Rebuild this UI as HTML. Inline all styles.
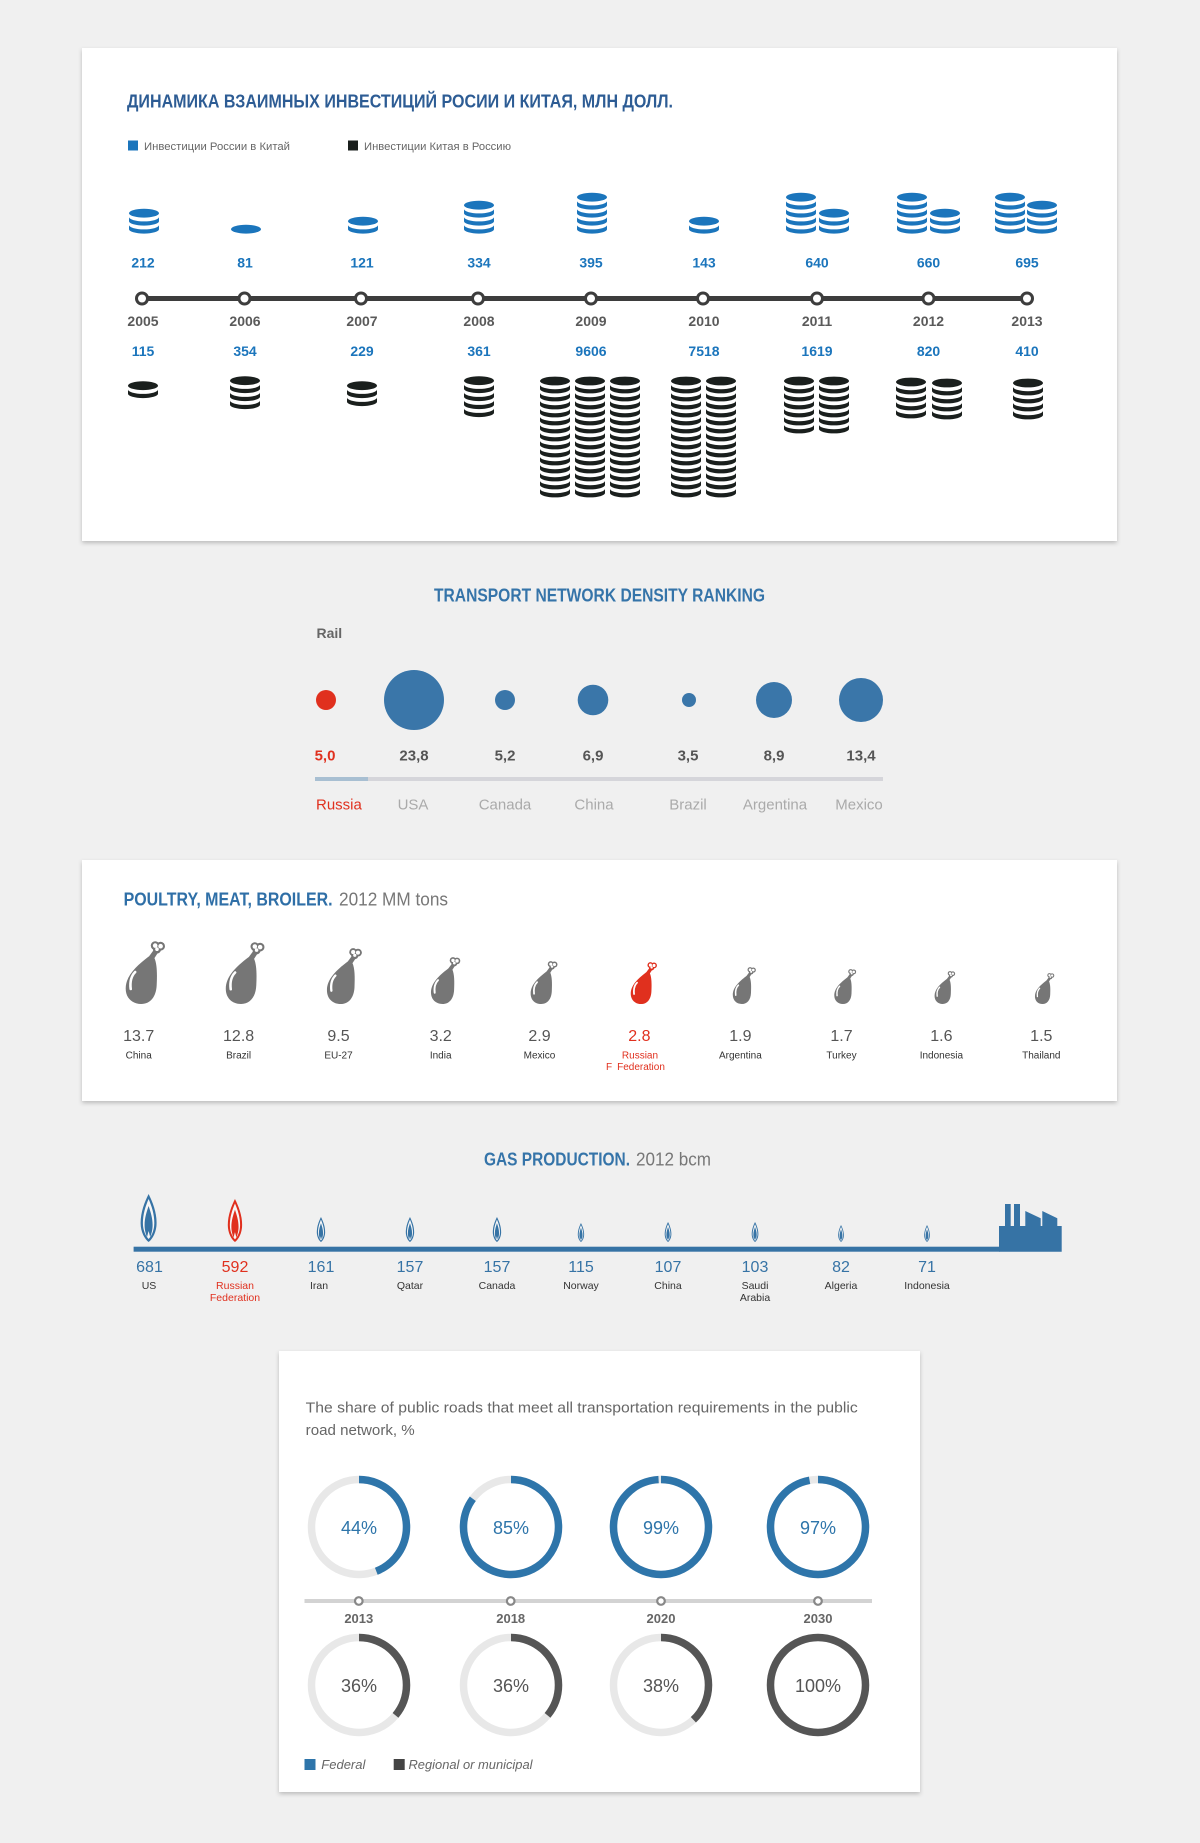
<!DOCTYPE html>
<html><head><meta charset="utf-8"><style>html,body{margin:0;padding:0;background:#f0f0f0}svg{display:block}text{font-family:"Liberation Sans","DejaVu Sans",sans-serif}</style></head>
<body>
<svg width="1200" height="1843" viewBox="0 0 1200 1843" xmlns="http://www.w3.org/2000/svg">
<defs>
<filter id="sh" x="-5%" y="-5%" width="110%" height="115%"><feDropShadow dx="0" dy="2" stdDeviation="2" flood-color="#000" flood-opacity="0.22"/></filter>
<path id="bd" d="M-15,0 A15,4.4 0 0 0 15,0 L15,4.2 A15,4.4 0 0 1 -15,4.2 Z"/>
<g id="k1"><ellipse cx="0" cy="0" rx="15" ry="4.4"/></g>
<g id="k2"><use href="#k1"/><use href="#bd" y="3.8"/></g>
<g id="k3"><use href="#k2"/><use href="#bd" y="11.8"/></g>
<g id="k4"><use href="#k3"/><use href="#bd" y="19.8"/></g>
<g id="k5"><use href="#k4"/><use href="#bd" y="27.8"/></g>
<g id="k6"><use href="#k5"/><use href="#bd" y="35.8"/></g>
<g id="k7"><use href="#k6"/><use href="#bd" y="43.8"/></g>
<g id="k8"><use href="#k7"/><use href="#bd" y="51.8"/></g>
<g id="k9"><use href="#k8"/><use href="#bd" y="59.8"/></g>
<g id="k10"><use href="#k9"/><use href="#bd" y="67.8"/></g>
<g id="k11"><use href="#k10"/><use href="#bd" y="75.8"/></g>
<g id="k12"><use href="#k11"/><use href="#bd" y="83.8"/></g>
<g id="k13"><use href="#k12"/><use href="#bd" y="91.8"/></g>
<g id="k14"><use href="#k13"/><use href="#bd" y="99.8"/></g>
<g id="k15"><use href="#k14"/><use href="#bd" y="107.8"/></g>
<g id="dm">
<path d="M28.5,9 L33.5,10.5 L29,17.5 L23,16.5 Z"/>
<path d="M23.5,15.5 L29,16.5 C32,23 32,33 31.5,44 C31,56 25,63 16,63 C7,63 0.5,57 0.5,47.5 C0.5,35 11,25 23.5,15.5 Z"/>
<circle cx="30" cy="4.6" r="4.4"/><circle cx="35.4" cy="5.2" r="4.4"/><circle cx="31.8" cy="8.6" r="4"/>
<circle cx="30" cy="4.6" r="2.3" fill="#fff"/><circle cx="35.4" cy="5.2" r="2.3" fill="#fff"/><circle cx="31.8" cy="8.2" r="1.8" fill="#fff"/>
<path d="M5.5,48 C4.6,41 6,35 10,31" fill="none" stroke="#fff" stroke-width="2.6" stroke-linecap="round"/>
</g>
<g id="fl">
<path d="M8,0 C12,8 16,18 16,29 C16,38 12,45 8,48 C4,45 0,38 0,29 C0,18 4,8 8,0 Z"/>
<path fill="#f6f6f6" d="M8,5 C11,12 13.7,20 13.7,29 C13.7,37 10.5,42.5 8,45 C5.5,42.5 2.3,37 2.3,29 C2.3,20 5,12 8,5 Z"/>
<path d="M8,12 C10,18 12,24 12,31 C12,36 10.8,40 9.6,43 L8,37 L6.4,43 C5.2,40 4,36 4,31 C4,24 6,18 8,12 Z"/>
</g>
</defs>

<rect x="0" y="0" width="1200" height="1843" fill="#f0f0f0"/>

<!-- Card 1 -->
<rect x="82" y="48" width="1035" height="493" fill="#fff" filter="url(#sh)"/>
<text x="127" y="107.5" font-size="18" font-weight="bold" fill="#2d5c94" textLength="546" lengthAdjust="spacingAndGlyphs">ДИНАМИКА ВЗАИМНЫХ ИНВЕСТИЦИЙ РОСИИ И КИТАЯ, МЛН ДОЛЛ.</text>
<rect x="128" y="140.5" width="10" height="10" fill="#1b75bc"/>
<text x="144" y="150" font-size="11" fill="#666" textLength="146" lengthAdjust="spacingAndGlyphs">Инвестиции России в Китай</text>
<rect x="348" y="140.5" width="10" height="10" fill="#1a1f1d"/>
<text x="364" y="150" font-size="11" fill="#666" textLength="147" lengthAdjust="spacingAndGlyphs">Инвестиции Китая в Россию</text>

<g fill="#1b75bc">
<use href="#k3" x="144" y="213.2"/>
<use href="#k1" x="246" y="229.2"/>
<use href="#k2" x="363" y="221.2"/>
<use href="#k4" x="479" y="205.2"/>
<use href="#k5" x="592" y="197.2"/>
<use href="#k2" x="704" y="221.2"/>
<use href="#k5" x="801" y="197.2"/>
<use href="#k3" x="834" y="213.2"/>
<use href="#k5" x="912" y="197.2"/>
<use href="#k3" x="945" y="213.2"/>
<use href="#k5" x="1010" y="197.2"/>
<use href="#k4" x="1042" y="205.2"/>
</g>

<g font-size="14" font-weight="bold" fill="#1b75bc" text-anchor="middle">
<text x="143" y="267.3">212</text><text x="245" y="267.3">81</text><text x="362" y="267.3">121</text><text x="479" y="267.3">334</text><text x="591" y="267.3">395</text><text x="704" y="267.3">143</text><text x="817" y="267.3">640</text><text x="928.5" y="267.3">660</text><text x="1027" y="267.3">695</text>
</g>

<line x1="142" y1="298.5" x2="1027" y2="298.5" stroke="#3d3d3d" stroke-width="5"/>
<g fill="#fff" stroke="#3d3d3d" stroke-width="3">
<circle cx="142" cy="298.5" r="5.5"/><circle cx="244.5" cy="298.5" r="5.5"/><circle cx="361" cy="298.5" r="5.5"/><circle cx="478" cy="298.5" r="5.5"/><circle cx="591" cy="298.5" r="5.5"/><circle cx="703" cy="298.5" r="5.5"/><circle cx="817" cy="298.5" r="5.5"/><circle cx="928.5" cy="298.5" r="5.5"/><circle cx="1027" cy="298.5" r="5.5"/>
</g>
<g font-size="14" font-weight="bold" fill="#5a5a5a" text-anchor="middle">
<text x="143" y="326">2005</text><text x="245" y="326">2006</text><text x="362" y="326">2007</text><text x="479" y="326">2008</text><text x="591" y="326">2009</text><text x="704" y="326">2010</text><text x="817" y="326">2011</text><text x="928.5" y="326">2012</text><text x="1027" y="326">2013</text>
</g>
<g font-size="14" font-weight="bold" fill="#1b75bc" text-anchor="middle">
<text x="143" y="356">115</text><text x="245" y="356">354</text><text x="362" y="356">229</text><text x="479" y="356">361</text><text x="591" y="356">9606</text><text x="704" y="356">7518</text><text x="817" y="356">1619</text><text x="928.5" y="356">820</text><text x="1027" y="356">410</text>
</g>

<g fill="#1a1f1d">
<use href="#k2" x="143" y="385.7"/>
<use href="#k4" x="245" y="380.7"/>
<use href="#k3" x="362" y="385.7"/>
<use href="#k5" x="479" y="380.7"/>
<use href="#k15" x="555" y="381"/>
<use href="#k15" x="590" y="381"/>
<use href="#k15" x="625" y="381"/>
<use href="#k15" x="686" y="381"/>
<use href="#k15" x="721" y="381"/>
<use href="#k7" x="799" y="381"/>
<use href="#k7" x="834" y="381"/>
<use href="#k5" x="911" y="382"/>
<use href="#k5" x="947" y="383"/>
<use href="#k5" x="1028" y="383"/>
</g>

<!-- Transport -->
<text x="434" y="601.5" font-size="18" font-weight="bold" fill="#3574a9" textLength="331" lengthAdjust="spacingAndGlyphs">TRANSPORT NETWORK DENSITY RANKING</text>
<text x="316.5" y="638" font-size="14" font-weight="bold" fill="#666">Rail</text>
<circle cx="326" cy="700" r="10" fill="#e0301e"/>
<g fill="#3a76a9">
<circle cx="414" cy="700" r="30"/><circle cx="505" cy="700" r="10"/><circle cx="593" cy="700" r="15.3"/><circle cx="689" cy="700" r="7"/><circle cx="774" cy="700" r="18"/><circle cx="861" cy="700" r="22"/>
</g>
<g font-size="15" font-weight="bold" fill="#555" text-anchor="middle">
<text x="325" y="760.5" fill="#e0301e">5,0</text><text x="414" y="760.5">23,8</text><text x="505" y="760.5">5,2</text><text x="593" y="760.5">6,9</text><text x="688" y="760.5">3,5</text><text x="774" y="760.5">8,9</text><text x="861" y="760.5">13,4</text>
</g>
<rect x="315" y="777" width="568" height="4" fill="#d5d5da"/>
<rect x="315" y="777" width="53" height="4" fill="#a8bfd2"/>
<g font-size="15" fill="#aaa" text-anchor="middle">
<text x="316" y="809.5" fill="#e0301e" text-anchor="start">Russia</text><text x="413" y="809.5">USA</text><text x="505" y="809.5">Canada</text><text x="594" y="809.5">China</text><text x="688" y="809.5">Brazil</text><text x="775" y="809.5">Argentina</text><text x="859" y="809.5">Mexico</text>
</g>

<!-- Card 2 Poultry -->
<rect x="82" y="860" width="1035" height="241" fill="#fff" filter="url(#sh)"/>
<text x="123.6" y="905.5" font-size="18" font-weight="bold" fill="#2f6fa7" textLength="209" lengthAdjust="spacingAndGlyphs">POULTRY, MEAT, BROILER.</text>
<text x="339" y="905.5" font-size="18" fill="#777" textLength="109" lengthAdjust="spacingAndGlyphs">2012 MM tons</text>
<g fill="#767676">
<use href="#dm" transform="translate(125.2,941) scale(1)"/>
<use href="#dm" transform="translate(225.3,942) scale(0.984)"/>
<use href="#dm" transform="translate(326.5,948) scale(0.889)"/>
<use href="#dm" transform="translate(430.6,957) scale(0.746)"/>
<use href="#dm" transform="translate(530.3,961) scale(0.683)"/>
<use href="#dm" transform="translate(630.4,962) scale(0.667)" fill="#e0301e"/>
<use href="#dm" transform="translate(732.5,967) scale(0.587)"/>
<use href="#dm" transform="translate(834,969) scale(0.556)"/>
<use href="#dm" transform="translate(934.3,971) scale(0.524)"/>
<use href="#dm" transform="translate(1034.7,973) scale(0.492)"/>
</g>
<g font-size="16" fill="#555" text-anchor="middle">
<text x="138.7" y="1041">13.7</text><text x="238.6" y="1041">12.8</text><text x="338.5" y="1041">9.5</text><text x="440.7" y="1041">3.2</text><text x="539.5" y="1041">2.9</text><text x="639.4" y="1041" fill="#e0301e">2.8</text><text x="740.4" y="1041">1.9</text><text x="841.5" y="1041">1.7</text><text x="941.4" y="1041">1.6</text><text x="1041.3" y="1041">1.5</text>
</g>
<g font-size="10" fill="#333" text-anchor="middle">
<text x="138.7" y="1058.5">China</text><text x="238.6" y="1058.5">Brazil</text><text x="338.5" y="1058.5">EU-27</text><text x="440.7" y="1058.5">India</text><text x="539.5" y="1058.5">Mexico</text><text x="640" y="1058.5" fill="#e0301e">Russian</text><text x="740.4" y="1058.5">Argentina</text><text x="841.5" y="1058.5">Turkey</text><text x="941.4" y="1058.5">Indonesia</text><text x="1041.3" y="1058.5">Thailand</text>
<text x="606" y="1070" fill="#e0301e" text-anchor="start">F</text><text x="641" y="1070" fill="#e0301e">Federation</text>
</g>

<!-- Gas -->
<text x="484" y="1165.5" font-size="18" font-weight="bold" fill="#3574a9" textLength="146" lengthAdjust="spacingAndGlyphs">GAS PRODUCTION.</text>
<text x="636" y="1165.5" font-size="18" fill="#777" textLength="75" lengthAdjust="spacingAndGlyphs">2012 bcm</text>
<g fill="#3673a5">
<use href="#fl" transform="translate(140.6,1194) scale(1)"/>
<use href="#fl" transform="translate(227.8,1199) scale(0.896)" fill="#e0301e"/>
<use href="#fl" transform="translate(316.8,1217) scale(0.521)"/>
<use href="#fl" transform="translate(405.8,1217) scale(0.521)"/>
<use href="#fl" transform="translate(492.8,1217) scale(0.521)"/>
<use href="#fl" transform="translate(577.8,1223) scale(0.396)"/>
<use href="#fl" transform="translate(664.7,1222) scale(0.417)"/>
<use href="#fl" transform="translate(751.7,1222) scale(0.417)"/>
<use href="#fl" transform="translate(838.2,1225) scale(0.354)"/>
<use href="#fl" transform="translate(924.2,1225) scale(0.354)"/>
<rect x="133.6" y="1246.7" width="866" height="5" fill="#3673a5"/>
<path d="M999,1251.7 L999,1226 L1005,1226 L1005,1204 L1010.7,1204 L1010.7,1226 L1014,1226 L1014,1204 L1020,1204 L1020,1226 L1025.3,1226 L1025.3,1211 L1040.7,1218.3 L1040.7,1226 L1042.3,1226 L1042.3,1211 L1057.3,1218.3 L1057.3,1226 L1061.7,1226 L1061.7,1251.7 Z"/>
</g>
<g font-size="16" fill="#3673a5" text-anchor="middle">
<text x="149.5" y="1272">681</text><text x="235" y="1272" fill="#e0301e">592</text><text x="321" y="1272">161</text><text x="410" y="1272">157</text><text x="497" y="1272">157</text><text x="581" y="1272">115</text><text x="668" y="1272">107</text><text x="755" y="1272">103</text><text x="841" y="1272">82</text><text x="927" y="1272">71</text>
</g>
<g font-size="10.5" fill="#333" text-anchor="middle">
<text x="149" y="1289.2">US</text><text x="235" y="1289.2" fill="#e0301e">Russian</text><text x="235" y="1300.8" fill="#e0301e">Federation</text><text x="319" y="1289.2">Iran</text><text x="410" y="1289.2">Qatar</text><text x="497" y="1289.2">Canada</text><text x="581" y="1289.2">Norway</text><text x="668" y="1289.2">China</text><text x="755" y="1289.2">Saudi</text><text x="755" y="1300.8">Arabia</text><text x="841" y="1289.2">Algeria</text><text x="927" y="1289.2">Indonesia</text>
</g>

<!-- Card 3 Roads -->
<rect x="279" y="1351" width="641" height="441" fill="#fff" filter="url(#sh)"/>
<text x="305.7" y="1412.7" font-size="15" fill="#666" textLength="552" lengthAdjust="spacingAndGlyphs">The share of public roads that meet all transportation requirements in the public</text>
<text x="305.7" y="1435" font-size="15" fill="#666" textLength="109" lengthAdjust="spacingAndGlyphs">road network, %</text>

<g fill="none" stroke-width="7.5">
<circle cx="359" cy="1527" r="47.5" stroke="#e8e8e8"/>
<circle cx="511" cy="1527" r="47.5" stroke="#e8e8e8"/>
<circle cx="661" cy="1527" r="47.5" stroke="#e8e8e8"/>
<circle cx="818" cy="1527" r="47.5" stroke="#e8e8e8"/>
<circle cx="359" cy="1527" r="47.5" stroke="#2e75aa" stroke-dasharray="131.3 400" transform="rotate(-90 359 1527)"/>
<circle cx="511" cy="1527" r="47.5" stroke="#2e75aa" stroke-dasharray="253.7 400" transform="rotate(-90 511 1527)"/>
<circle cx="661" cy="1527" r="47.5" stroke="#2e75aa" stroke-dasharray="295.5 400" transform="rotate(-90 661 1527)"/>
<circle cx="818" cy="1527" r="47.5" stroke="#2e75aa" stroke-dasharray="289.5 400" transform="rotate(-90 818 1527)"/>
<circle cx="359" cy="1685" r="47.5" stroke="#e8e8e8"/>
<circle cx="511" cy="1685" r="47.5" stroke="#e8e8e8"/>
<circle cx="661" cy="1685" r="47.5" stroke="#e8e8e8"/>
<circle cx="359" cy="1685" r="47.5" stroke="#555" stroke-dasharray="107.4 400" transform="rotate(-90 359 1685)"/>
<circle cx="511" cy="1685" r="47.5" stroke="#555" stroke-dasharray="107.4 400" transform="rotate(-90 511 1685)"/>
<circle cx="661" cy="1685" r="47.5" stroke="#555" stroke-dasharray="113.4 400" transform="rotate(-90 661 1685)"/>
<circle cx="818" cy="1685" r="47.5" stroke="#555"/>
</g>
<g font-size="18" fill="#2e75aa" text-anchor="middle">
<text x="359" y="1534">44%</text><text x="511" y="1534">85%</text><text x="661" y="1534">99%</text><text x="818" y="1534">97%</text>
</g>
<g font-size="18" fill="#555" text-anchor="middle">
<text x="359" y="1692">36%</text><text x="511" y="1692">36%</text><text x="661" y="1692">38%</text><text x="818" y="1692">100%</text>
</g>
<rect x="304.5" y="1599" width="567.5" height="4" fill="#d3d3d3"/>
<g fill="#fff" stroke="#888" stroke-width="2.2">
<circle cx="358.8" cy="1601" r="3.8"/><circle cx="510.7" cy="1601" r="3.8"/><circle cx="661" cy="1601" r="3.8"/><circle cx="818" cy="1601" r="3.8"/>
</g>
<g font-size="13" font-weight="bold" fill="#666" text-anchor="middle">
<text x="358.8" y="1623">2013</text><text x="510.7" y="1623">2018</text><text x="661" y="1623">2020</text><text x="818" y="1623">2030</text>
</g>
<rect x="304.5" y="1759" width="11" height="11" fill="#2e75aa"/>
<text x="321.3" y="1769" font-size="13" font-style="italic" fill="#666">Federal</text>
<rect x="393.7" y="1759" width="11" height="11" fill="#444"/>
<text x="408.5" y="1769" font-size="13" font-style="italic" fill="#666" textLength="124" lengthAdjust="spacingAndGlyphs">Regional or municipal</text>
</svg>
</body></html>
